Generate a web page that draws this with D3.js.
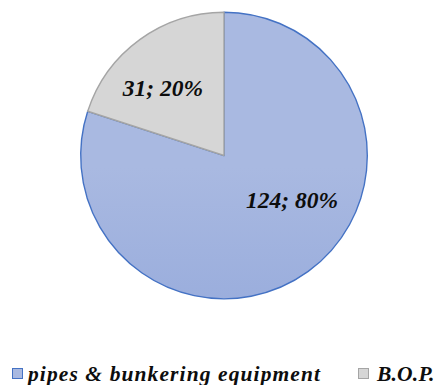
<!DOCTYPE html>
<html><head><meta charset="utf-8">
<script src="https://cdn.jsdelivr.net/npm/d3@7"></script>
<style>body{margin:0;background:#fff;}svg{display:block;}</style>
</head><body>
<svg id="c" width="441" height="385"></svg>
<script>
const categories = ["pipes & bunkering equipment", "B.O.P."];
const values = [124, 31];
const percents = ["80%", "20%"];

const FONT = "'Liberation Serif', 'Times New Roman', serif";
const svg = d3.select("#c");
const cx = 224, cy = 155.5, r = 143.3;
const defs = svg.append("defs");
const gradStops = [["#A9B9E1", "#8AA1D8"], ["#D6D6D6", "#C2C2C2"]];
const strokes = ["#4472C4", "#A5A5A5"];
gradStops.forEach((s, i) => {
  const g = defs.append("linearGradient").attr("id", "g" + i)
    .attr("gradientUnits", "userSpaceOnUse")
    .attr("x1", 0).attr("y1", cy - r).attr("x2", 0).attr("y2", cy + r);
  g.append("stop").attr("offset", "0%").attr("stop-color", s[0]);
  g.append("stop").attr("offset", "100%").attr("stop-color", s[1]);
});

const pie = d3.pie().sort(null).value(d => d)(values);
const arc = d3.arc().innerRadius(0).outerRadius(r);
const g = svg.append("g").attr("transform", `translate(${cx},${cy})`);
g.selectAll("path.slice").data(pie).join("path")
  .attr("class", "slice")
  .attr("d", arc)
  .attr("fill", (d, i) => `url(#g${i})`)
  .attr("stroke", (d, i) => strokes[i])
  .attr("stroke-width", 1.4)
  .attr("stroke-linejoin", "round");

// best-fit style label placement: radius fraction and angle nudge from slice middle
const labelR = [0.57, 0.636];
const labelShift = [-0.357, -0.106];
g.selectAll("text.lbl").data(pie).join("text")
  .attr("class", "lbl")
  .attr("transform", (d, i) => {
    const a = (d.startAngle + d.endAngle) / 2 + labelShift[i];
    const p = d3.pointRadial(a, r * labelR[i]);
    return `translate(${p[0]},${p[1]})`;
  })
  .attr("text-anchor", "middle")
  .attr("dy", "0.33em")
  .style("font-family", FONT).style("font-weight", "bold").style("font-style", "italic")
  .style("font-size", "23.5px").attr("fill", "#0d0d0d")
  .text((d, i) => `${values[i]}; ${percents[i]}`);

const legSq = [12, 358];
const legTx = [28, 377];
const legSpacing = [1.1, 0.2];
const lg = svg.append("g");
categories.forEach((c, i) => {
  lg.append("rect").attr("x", legSq[i] + 0.5).attr("y", 368.5).attr("width", 10).attr("height", 10)
    .attr("fill", gradStops[i][0]).attr("stroke", strokes[i]).attr("stroke-width", 1);
  lg.append("text").attr("x", legTx[i]).attr("y", 380.5)
    .style("font-family", FONT).style("font-weight", "bold").style("font-style", "italic")
    .style("letter-spacing", legSpacing[i] + "px")
    .style("font-size", "21.5px").attr("fill", "#0d0d0d").text(c);
});
</script>
</body></html>
